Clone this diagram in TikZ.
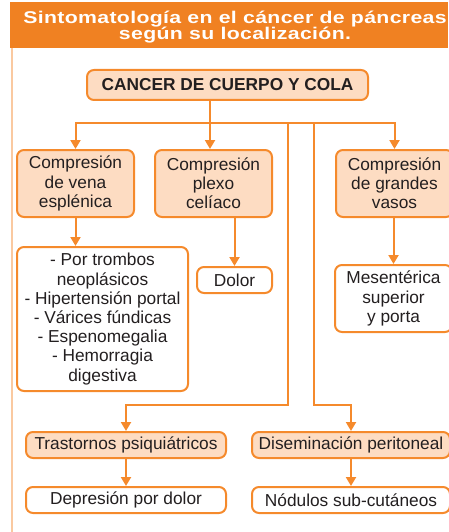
\documentclass[tikz,border=0pt]{standalone}
\usepackage{fontspec}
\setmainfont{Liberation Sans}
\newfontfamily\titlefont[FakeStretch=1.25,LetterSpace=2]{Liberation Sans}
\usetikzlibrary{arrows.meta}

\definecolor{bandorange}{HTML}{F08122}
\definecolor{lineorange}{HTML}{F58A2C}
\definecolor{peach}{HTML}{FDDCC2}
\definecolor{paleline}{HTML}{FAC9A0}
\definecolor{inktext}{HTML}{231F20}

\tikzset{
  box/.style={draw=lineorange, line width=2pt, rounded corners=7pt, inner sep=0pt,
    align=center, text=inktext, font=\fontsize{17.3}{19.2}\selectfont},
  hdbox/.style={box, fill=peach},
  lnbox/.style={box, fill=white},
  con/.style={draw=lineorange, line width=2pt},
  arr/.style={con, -{Triangle[width=10pt,length=9pt]}},
}

\begin{document}
\begin{tikzpicture}[x=1pt,y=1pt,yscale=-1,xscale=1]
\useasboundingbox (0,0) rectangle (448,532);

%Shape: Title band
\fill[bandorange] (10,2) rectangle (448,48);
%Straight Lines: left border
\draw[paleline, line width=1.5pt] (12,48) -- (12,532);

% Text Node
\node[text=white, align=center, font=\titlefont\bfseries\fontsize{17}{16.5}\selectfont] (title) at (235,27)
  {Sintomatolog\'ia en el c\'ancer de p\'ancreas\\seg\'un su localizaci\'on.};

%Shape: Rounded Rect
\node[hdbox, minimum width=281, minimum height=30] (cola) at (227.5,85) {\bfseries CANCER DE CUERPO Y COLA};

\node[hdbox, minimum width=117, minimum height=67] (vena) at (75.5,183.5) {Compresión\\de vena\\esplénica};
\node[hdbox, minimum width=117, minimum height=67] (plexo) at (213.5,183.5) {Compresión\\plexo\\celíaco};
\node[hdbox, minimum width=117, minimum height=67] (grandes) at (394.5,183.5) {Compresión\\de grandes\\vasos};

\node[lnbox, minimum width=171, minimum height=144] (lista) at (102.5,319)
  {- Por trombos\\neoplásicos\\- Hipertensión portal\\- Várices fúndicas\\- Espenomegalia\\- Hemorragia\\digestiva};
\node[lnbox, minimum width=75, minimum height=26] (dolor) at (234.5,280) {Dolor};
\node[lnbox, minimum width=117, minimum height=67] (mesent) at (393.5,298.5) {Mesentérica\\superior\\y porta};

\node[hdbox, minimum width=200, minimum height=26] (trast) at (126,445) {Trastornos psiquiátricos};
\node[lnbox, minimum width=200, minimum height=26] (depre) at (126,500) {Depresión por dolor};
\node[hdbox, minimum width=198, minimum height=26] (disem) at (351,445) {Diseminación peritoneal};
\node[lnbox, minimum width=198, minimum height=26] (nodul) at (351,500) {Nódulos sub-cutáneos};

%Straight Lines
\coordinate (split) at (210,123);
\coordinate (down) at (288,123);
\coordinate (down2) at (314,123);
\coordinate (fork) at (0,405);

\draw[con] (cola.south -| split) -- (split);
\draw[con, line cap=rect] (vena |- split) -- (grandes |- split);
\draw[arr] (vena |- split) -- (vena);
\draw[arr] (split) -- (split |- plexo.north);
\draw[arr] (grandes |- split) -- (grandes);

\draw[arr] (vena.south) -- (vena.south |- lista.north);
\draw[arr] (dolor.north |- plexo.south) -- (dolor);
\draw[arr] (mesent.north |- grandes.south) -- (mesent);

\draw[arr] (down) -- (down |- fork) -| (trast);
\draw[arr] (down2) -- (down2 |- fork) -| (disem);
\draw[arr] (trast) -- (depre);
\draw[arr] (disem) -- (nodul);

\end{tikzpicture}
\end{document}
